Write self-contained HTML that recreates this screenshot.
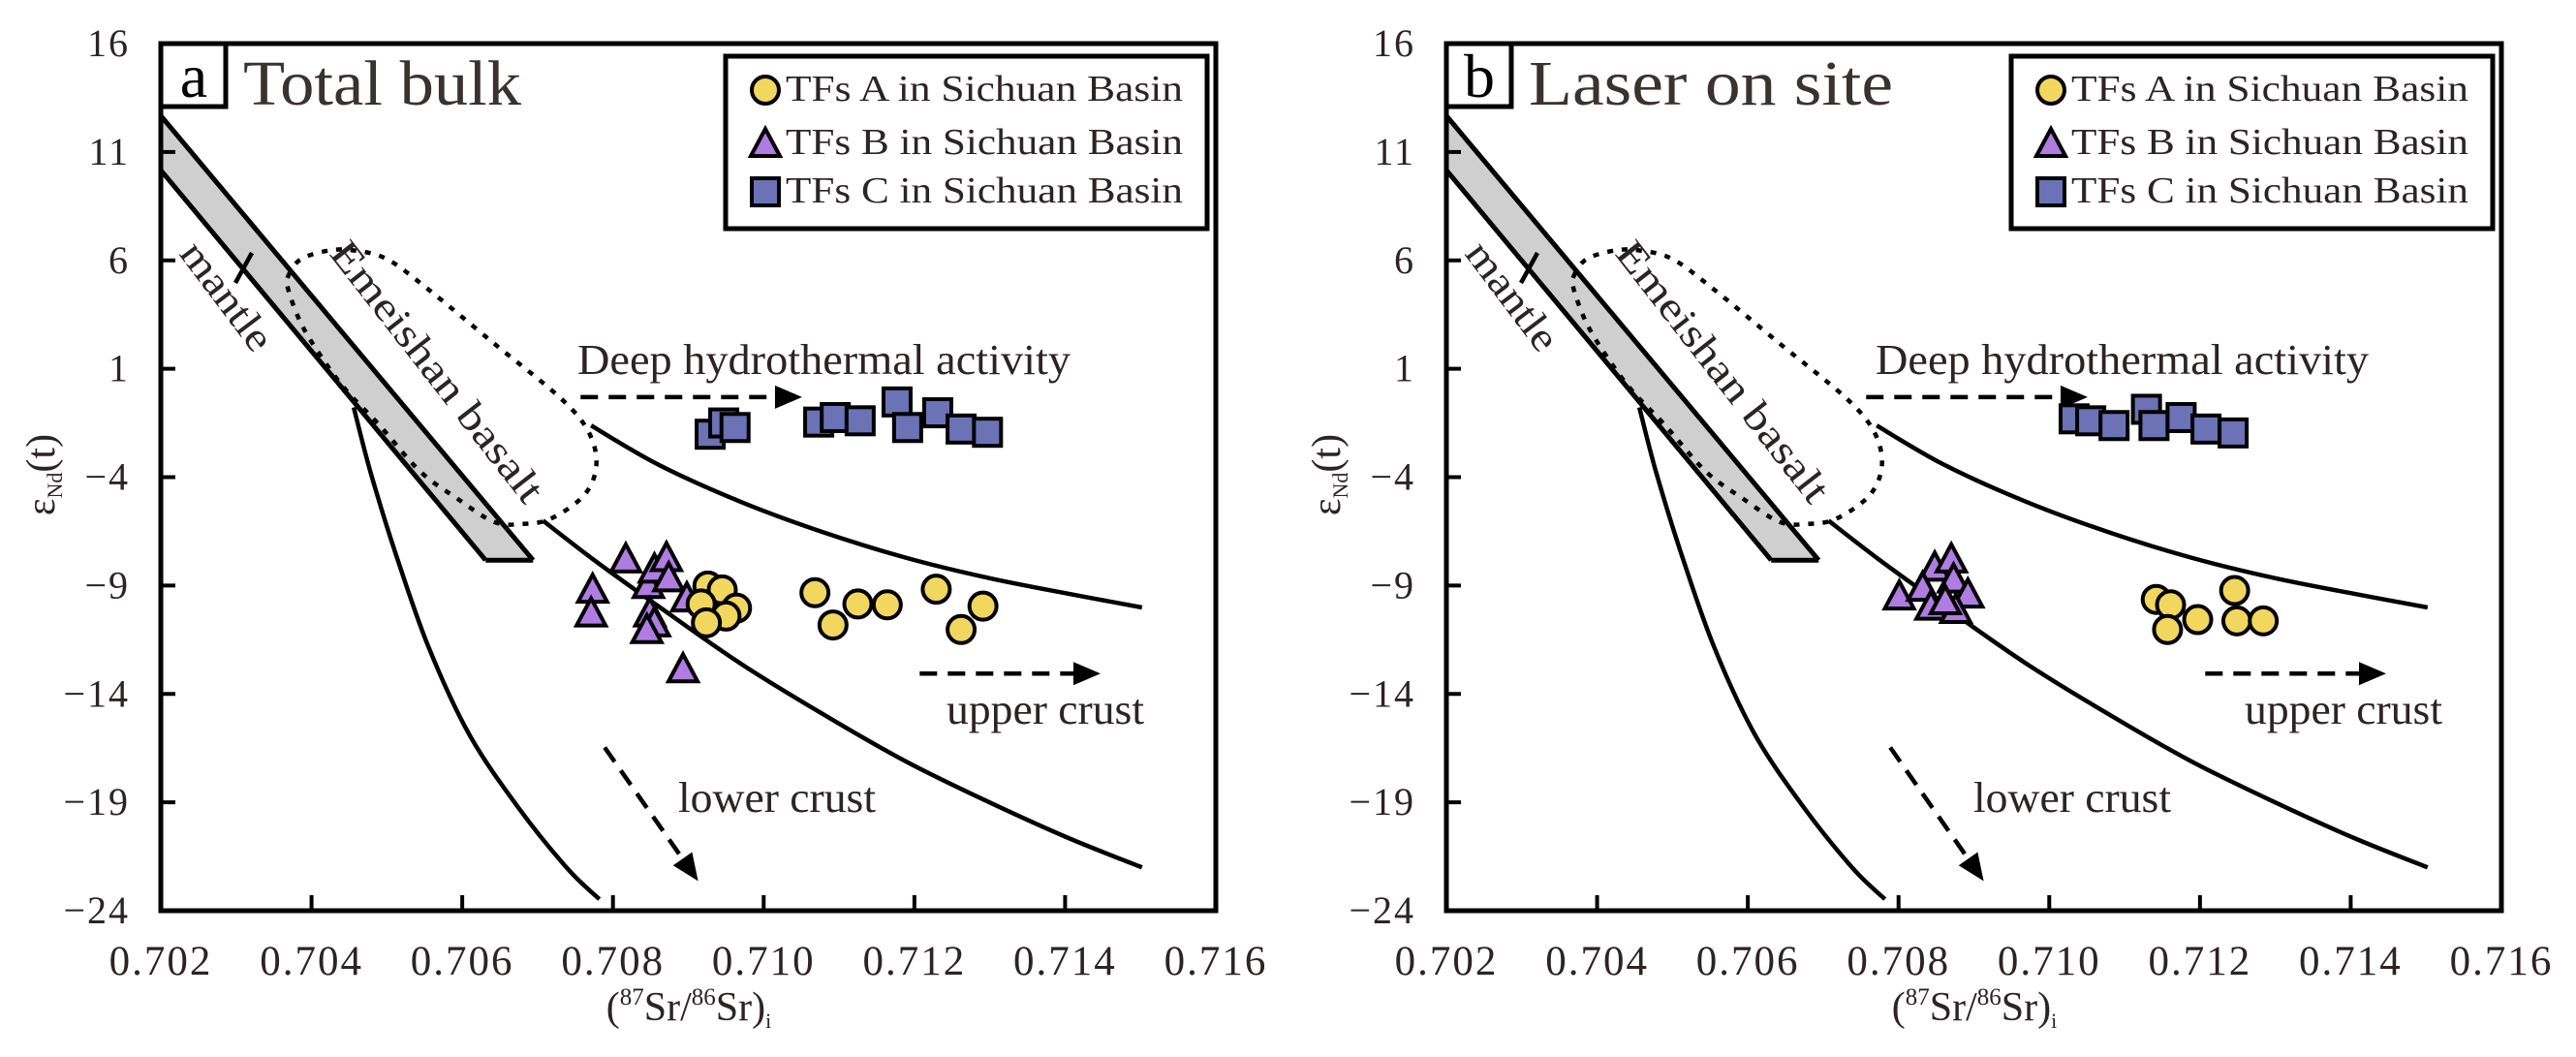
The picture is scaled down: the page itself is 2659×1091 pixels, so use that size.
<!DOCTYPE html>
<html><head><meta charset="utf-8"><style>
html,body{margin:0;padding:0;background:#fff;}
svg{display:block;font-family:"Liberation Serif",serif;}
svg text{font-family:"Liberation Serif",serif;}
</style></head><body>
<svg id="chart" width="2659" height="1091" viewBox="0 0 2659 1091" xmlns="http://www.w3.org/2000/svg" font-family="Liberation Serif, serif"></svg>
<script>
// ---- axis ticks ----
const xTicks = [0.702,0.704,0.706,0.708,0.710,0.712,0.714,0.716];
const xTickLabels = ["0.702","0.704","0.706","0.708","0.710","0.712","0.714","0.716"];
const yTicks = [16,11,6,1,-4,-9,-14,-19,-24];
const yTickLabels = ["16","11","6","1","\u22124","\u22129","\u221214","\u221219","\u221224"];
// ---- reference fields (data units) ----
const mantleUpperX = [0.702, 0.70694];
const mantleUpperY = [12.67, -7.83];
const mantleLowerX = [0.702, 0.70631];
const mantleLowerY = [10.16, -7.83];
const emeishanX = [0.70369,0.70386,0.70424,0.70456,0.70500,0.70555,0.70642,0.70729,0.70767,0.70778,0.70762,0.70718,0.70680,0.70642,0.70593,0.70544,0.70489,0.70446,0.70413,0.70386,0.70369];
const emeishanY = [5.28,6.06,6.46,6.46,6.06,4.66,2.17,-0.31,-1.87,-3.42,-4.82,-5.91,-6.16,-6.06,-4.98,-3.73,-1.56,0.0,1.55,3.10,4.66];
const lowerCurveX = [0.70456,0.70478,0.70511,0.70555,0.70609,0.70675,0.70740,0.70782];
const lowerCurveY = [-0.78,-3.73,-7.46,-11.81,-15.85,-19.27,-22.07,-23.47];
const middleCurveX = [0.70707,0.70773,0.70860,0.70969,0.71078,0.71188,0.71297,0.71406,0.71502];
const middleCurveY = [-6.00,-7.77,-9.95,-12.59,-14.92,-17.10,-18.96,-20.67,-22.0];
const upperCurveX = [0.70771,0.70860,0.70969,0.71078,0.71188,0.71297,0.71406,0.71502];
const upperCurveY = [-1.62,-3.42,-5.13,-6.53,-7.71,-8.64,-9.39,-10.01];
// ---- panel a data ----
const aSquareX = [0.70929,0.70947,0.70962,0.71073,0.71095,0.71128,0.71177,0.71191,0.71231,0.71262,0.71297];
const aSquareY = [-2.02,-1.50,-1.71,-1.46,-1.25,-1.40,-0.53,-1.71,-1.03,-1.78,-1.93];
const aTriX = [0.70817,0.70773,0.70771,0.70847,0.70855,0.70871,0.70874,0.70898,0.70849,0.70855,0.70845,0.70893];
const aTriY = [-7.77,-9.17,-10.26,-8.95,-8.24,-7.71,-8.64,-9.57,-10.26,-10.72,-11.03,-12.84];
const aCircX = [0.70926,0.70945,0.70917,0.70964,0.70950,0.70924,0.71068,0.71092,0.71125,0.71164,0.71229,0.71262,0.71291];
const aCircY = [-9.02,-9.20,-9.85,-10.04,-10.41,-10.72,-9.33,-10.82,-9.85,-9.89,-9.17,-11.03,-9.95];
// ---- panel b data ----
const bSquareX = [0.71033,0.71055,0.71086,0.71129,0.71139,0.71175,0.71208,0.71244];
const bSquareY = [-1.31,-1.40,-1.62,-0.87,-1.62,-1.25,-1.78,-1.96];
const bTriX = [0.70848,0.70870,0.70801,0.70832,0.70873,0.70892,0.70843,0.70876,0.70862];
const bTriY = [-8.15,-7.77,-9.48,-9.08,-8.70,-9.39,-9.95,-10.10,-9.70];
const bCircX = [0.71142,0.71161,0.71157,0.71197,0.71246,0.71249,0.71284];
const bCircY = [-9.64,-9.89,-11.03,-10.57,-9.23,-10.63,-10.63];

const NS = "http://www.w3.org/2000/svg";
const svg = document.getElementById("chart");
function mk(tag, attrs, parent){
  const e = document.createElementNS(NS, tag);
  for (const k in attrs) e.setAttribute(k, attrs[k]);
  (parent||svg).appendChild(e);
  return e;
}
function smoothPath(pts, closed){
  const n = pts.length; let d = "M"+pts[0][0].toFixed(1)+","+pts[0][1].toFixed(1);
  const get = i => closed ? pts[(i+n)%n] : pts[Math.max(0,Math.min(n-1,i))];
  const last = closed ? n : n-1;
  for (let i=0;i<last;i++){
    const p0=get(i-1),p1=get(i),p2=get(i+1),p3=get(i+2);
    const c1=[p1[0]+(p2[0]-p0[0])/6,p1[1]+(p2[1]-p0[1])/6];
    const c2=[p2[0]-(p3[0]-p1[0])/6,p2[1]-(p3[1]-p1[1])/6];
    d+=" C"+c1[0].toFixed(1)+","+c1[1].toFixed(1)+" "+c2[0].toFixed(1)+","+c2[1].toFixed(1)+" "+p2[0].toFixed(1)+","+p2[1].toFixed(1);
  }
  return d + (closed?" Z":"");
}
const TXT = "#2b2424";
const FF = '"Liberation Serif", serif';

function panel(cfg){
  const L = cfg.left, R = cfg.left+1089, T = 45, B = 940;
  const X = v => L + (v-0.702)/0.014*(R-L);
  const Y = v => T + (16-v)/40*(B-T);
  const g = mk("g", {});
  
  

  const band = mk("polygon", {points:[[X(mantleUpperX[0]),Y(mantleUpperY[0])],[X(mantleUpperX[1]),Y(mantleUpperY[1])],[X(mantleLowerX[1]),Y(mantleLowerY[1])],[X(mantleLowerX[0]),Y(mantleLowerY[0])]].map(p=>p.join(",")).join(" "), fill:"#cfcfcf", stroke:"none"}, g);
  
  
  const ul = mk("line",{x1:X(mantleUpperX[0]),y1:Y(mantleUpperY[0]),x2:X(mantleUpperX[1]),y2:Y(mantleUpperY[1]),stroke:"#000","stroke-width":5},g);
  
  
  const ll = mk("line",{x1:X(mantleLowerX[0]),y1:Y(mantleLowerY[0]),x2:X(mantleLowerX[1]),y2:Y(mantleLowerY[1]),stroke:"#000","stroke-width":5},g);
  
  
  const bl = mk("line",{x1:X(mantleLowerX[1]),y1:Y(mantleLowerY[1]),x2:X(mantleUpperX[1]),y2:Y(mantleUpperY[1]),stroke:"#000","stroke-width":5},g);
  
  
  const tk = mk("line",{x1:L+77,y1:292,x2:L+94,y2:261,stroke:"#000","stroke-width":4.5},g);
  
  

  const em = mk("path",{d:smoothPath(emeishanX.map((v,i)=>[X(v),Y(emeishanY[i])]),true),fill:"none",stroke:"#000","stroke-width":4.5,"stroke-dasharray":"6 9"},g);
  
  

  [[lowerCurveX,lowerCurveY,'lower-crust-mixing-curve'],[middleCurveX,middleCurveY,'middle-mixing-curve'],[upperCurveX,upperCurveY,'upper-mixing-curve']].forEach(c=>{
    const p = mk("path",{d:smoothPath(c[0].map((v,i)=>[X(v),Y(c[1][i])]),false),fill:"none",stroke:"#000","stroke-width":4.5},g);
    
    
  });

  function arrow(x1,y1,x2,y2,name){
    const ag = mk("g",{},g);
    
    
    const ang = Math.atan2(y2-y1,x2-x1), len=28, w=12;
    const bx = x2-len*Math.cos(ang), by = y2-len*Math.sin(ang);
    mk("line",{x1:x1,y1:y1,x2:bx,y2:by,stroke:"#000","stroke-width":4.5,"stroke-dasharray":"18 11"},ag);
    const px=-Math.sin(ang)*w, py=Math.cos(ang)*w;
    mk("polygon",{points:`${x2},${y2} ${bx+px},${by+py} ${bx-px},${by-py}`,fill:"#000"},ag);
  }
  arrow(X(0.70757),Y(-0.31),X(0.71051),Y(-0.31),'deep-hydrothermal-arrow');
  arrow(X(0.71207),Y(-13.06),X(0.71447),Y(-13.06),'upper-crust-arrow');
  arrow(X(0.70789),Y(-16.47),X(0.70913),Y(-22.63),'lower-crust-arrow');

  function text(str,x,y,size,name,extra){
    const t = mk("text",Object.assign({x:x,y:y,"font-size":size,fill:TXT,"font-family":FF},extra||{}),g);
    t.textContent = str;
    
    
    return t;
  }
  text("Deep hydrothermal activity",L+cfg.dx,386,44,'deep-hydrothermal-label',{textLength:509,lengthAdjust:"spacingAndGlyphs"});
  text("upper crust",L+cfg.ux,747,44,'upper-crust-label',{textLength:204,lengthAdjust:"spacingAndGlyphs"});
  text("lower crust",L+cfg.lx,838,44,'lower-crust-label',{textLength:204,lengthAdjust:"spacingAndGlyphs"});
  text("mantle",0,0,42,'mantle-label',{transform:`translate(${L+18},${262}) rotate(53)`,textLength:130,lengthAdjust:"spacingAndGlyphs"});
  text("Emeishan  basalt",0,0,42,'emeishan-basalt-label',{transform:`translate(${L+173},${262}) rotate(52)`,textLength:330,lengthAdjust:"spacingAndGlyphs"});

  function circ(cx,cy,name){
    const c = mk("circle",{cx:cx,cy:cy,r:14,fill:"#f1d75e",stroke:"#000","stroke-width":4},g);
    
    
  }
  function tri(cx,cy,name){
    const p = mk("polygon",{points:`${cx},${cy-15} ${cx+15},${cy+13} ${cx-15},${cy+13}`,fill:"#b07ce2",stroke:"#000","stroke-width":4,"stroke-linejoin":"miter"},g);
    
    
  }
  function sq(cx,cy,name){
    const r = mk("rect",{x:cx-14,y:cy-14,width:28,height:28,fill:"#6b72b6",stroke:"#000","stroke-width":4},g);
    
    
  }
  cfg.sqX.forEach((v,i)=>sq(X(v),Y(cfg.sqY[i]),'tfs-c-point'));
  cfg.triX.forEach((v,i)=>tri(X(v),Y(cfg.triY[i]),'tfs-b-point'));
  cfg.circX.forEach((v,i)=>circ(X(v),Y(cfg.circY[i]),'tfs-a-point'));

  const fr = mk("rect",{x:L,y:T,width:R-L,height:B-T,fill:"none",stroke:"#000","stroke-width":5},g);
  
  
  xTicks.forEach((v,i)=>{
    if (i>0 && i<xTicks.length-1) mk("line",{x1:X(v),y1:B,x2:X(v),y2:B-16,stroke:"#000","stroke-width":4},g);
    text(xTickLabels[i],X(v),1006,43,'x-tick-label',{"text-anchor":"middle","letter-spacing":"2"});
  });
  yTicks.forEach((v,i)=>{
    if (i>0 && i<yTicks.length-1) mk("line",{x1:L,y1:Y(v),x2:L+15,y2:Y(v),stroke:"#000","stroke-width":4},g);
    text(yTickLabels[i],L-32,Y(v)+13,40,'y-tick-label',{"text-anchor":"end","letter-spacing":"2"});
  });
  const xt = mk("text",{x:L+545,y:1053,"font-size":42,fill:TXT,"text-anchor":"middle","font-family":FF},g);
  xt.innerHTML = '(<tspan font-size="25" dy="-16">87</tspan><tspan dy="16">Sr/</tspan><tspan font-size="25" dy="-16">86</tspan><tspan dy="16">Sr)</tspan><tspan font-size="22" dy="8">i</tspan>';
  
  
  const yt = mk("text",{transform:`translate(${L-110},490) rotate(-90)`,"font-size":42,fill:TXT,"text-anchor":"middle","font-family":FF},g);
  yt.innerHTML = 'ε<tspan font-size="22" dy="8">Nd</tspan><tspan dy="-8">(t)</tspan>';
  
  

  const lb = mk("rect",{x:L,y:T,width:67,height:65,fill:"#fff",stroke:"#000","stroke-width":5},g);
  
  
  text(cfg.letter,L+34,100,64,'panel-letter',{"text-anchor":"middle",fill:"#000"});
  text(cfg.title,L+85,108,66,'panel-title',{textLength:cfg.titleW,lengthAdjust:"spacingAndGlyphs",fill:"#3a3131"});

  const lg = mk("g",{},g);
  
  
  const lx = L+583;
  mk("rect",{x:lx,y:58,width:497,height:178,fill:"#fff",stroke:"#000","stroke-width":5},lg);
  const rows = [["TFs  A  in  Sichuan Basin",104,circ,'legend-entry-tfs-a'],["TFs  B  in  Sichuan Basin",159,tri,'legend-entry-tfs-b'],["TFs  C  in  Sichuan Basin",209,sq,'legend-entry-tfs-c']];
  rows.forEach(r=>{
    r[2](lx+41,r[1]-11,r[3]+'-marker');
    const t = mk("text",{x:lx+62,y:r[1],"font-size":38,fill:TXT,"font-family":FF,textLength:410,lengthAdjust:"spacingAndGlyphs"},lg);
    t.textContent = r[0];
    
    
  });
}

panel({id:"a",left:166,letter:"a",title:"Total bulk",titleW:287,dx:430,ux:811,lx:534,
  sqX:aSquareX,sqY:aSquareY,triX:aTriX,triY:aTriY,circX:aCircX,circY:aCircY});
panel({id:"b",left:1493,letter:"b",title:"Laser  on site",titleW:376,dx:443,ux:824,lx:544,
  sqX:bSquareX,sqY:bSquareY,triX:bTriX,triY:bTriY,circX:bCircX,circY:bCircY});
</script>
</body></html>
